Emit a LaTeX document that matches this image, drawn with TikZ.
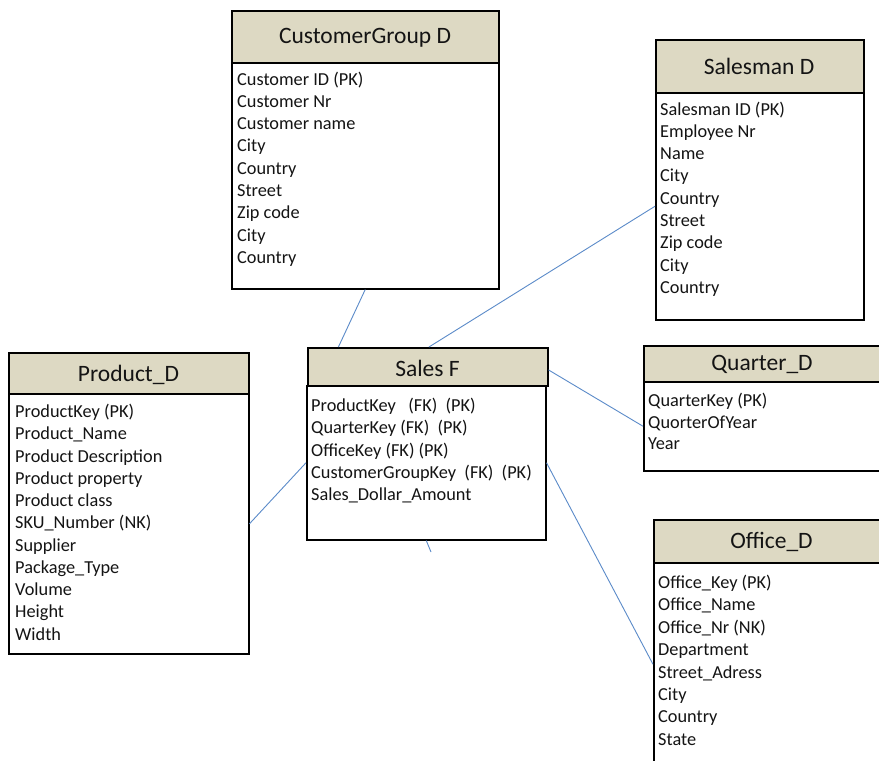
\documentclass[tikz,border=0pt]{standalone}
\usepackage{fontspec}
\setmainfont{Carlito}
\usetikzlibrary{calc}
\definecolor{hdrfill}{HTML}{DDD9C3}
\definecolor{txtc}{HTML}{141414}
\definecolor{linec}{HTML}{5B8BC9}
\newcommand\entrows[5]{%
  \foreach \t [count=\i] in {#5}
    \node[rowtxt] (#1\i) at (#2, {#3+#4*(\i-1)}) {\t};}
\tikzset{
  hdr/.style={draw=black, line width=1.5pt, fill=hdrfill, inner sep=0pt, anchor=north west},
  bodybox/.style={draw=black, line width=1.5pt, fill=white, inner sep=0pt, anchor=north west},
  ttl/.style={anchor=base, inner sep=0pt, text=txtc, font=\fontsize{23.5}{27}\selectfont},
  rowtxt/.style={anchor=base west, inner sep=0pt, text=txtc, font=\fontsize{18.3}{22}\selectfont},
  conn/.style={draw=linec, line width=0.9pt}
}
\begin{document}
\begin{tikzpicture}[x=1pt,y=-1pt]
\useasboundingbox (0,0) rectangle (879,761);
\clip (0,0) rectangle (879,761);
\fill[white] (0,0) rectangle (879,761);

% CustomerGroup D
\node[bodybox, minimum width=267pt, minimum height=226pt] (cgb) at (231,62) {};
\node[hdr, minimum width=267pt, minimum height=52pt] (cgh) at (231,10) {};
\node[ttl] (cgt) at (365,43.5) {CustomerGroup D};
\entrows{cg}{237}{85}{22.3}{Customer ID (PK), Customer Nr, Customer name, City, Country, Street, Zip code, City, Country}

% Salesman D
\node[bodybox, minimum width=208pt, minimum height=227pt] (smb) at (655,92) {};
\node[hdr, minimum width=208pt, minimum height=53pt] (smh) at (655,39) {};
\node[ttl] (smt) at (759,74.5) {Salesman D};
\entrows{sm}{660}{115}{22.3}{Salesman ID (PK), Employee Nr, Name, City, Country, Street, Zip code, City, Country}

% Product_D
\node[bodybox, minimum width=240pt, minimum height=260pt] (pdb) at (8,393) {};
\node[hdr, minimum width=240pt, minimum height=41pt] (pdh) at (8,352) {};
\node[ttl] (pdt) at (128.5,381) {Product\_D};
\entrows{pd}{15}{417.5}{22.25}{ProductKey (PK), Product\_Name, Product Description, Product property, Product class, SKU\_Number (NK), Supplier, Package\_Type, Volume, Height, Width}

% Sales F
\node[bodybox, minimum width=239pt, minimum height=154pt] (sfb) at (306,385) {};
\node[hdr, minimum width=240pt, minimum height=38pt] (sfh) at (307,347) {};
\node[ttl] (sft) at (427.5,376) {Sales F};
\entrows{sf}{311}{411.5}{22.3}{{ProductKey\ \ \ (FK)\ \ (PK)}, {QuarterKey (FK)\ \ (PK)}, {OfficeKey (FK) (PK)}, {CustomerGroupKey\ \ (FK)\ \ (PK)}, Sales\_Dollar\_Amount}

% Quarter_D
\node[bodybox, minimum width=260pt, minimum height=89pt] (qdb) at (643,381) {};
\node[hdr, minimum width=260pt, minimum height=36pt] (qdh) at (643,345) {};
\node[ttl] (qdt) at (762,370.5) {Quarter\_D};
\entrows{qd}{648}{406.5}{21.5}{QuarterKey (PK), QuorterOfYear, Year}

% Office_D
\node[bodybox, minimum width=250pt, minimum height=203pt] (odb) at (653,562) {};
\node[hdr, minimum width=250pt, minimum height=43pt] (odh) at (653,519) {};
\node[ttl] (odt) at (771.5,548.5) {Office\_D};
\entrows{od}{658}{588.5}{22.4}{Office\_Key (PK), Office\_Name, Office\_Nr (NK), Department, Street\_Adress, City, Country, State}

% connectors
\coordinate (stubend) at (431,552);
\draw[conn] ($(cgb.south west)!0.5!(cgb.south east)$) -- ($(sfh.north west)!0.13!(sfh.north east)$);
\draw[conn] (smb.west) -- ($(sfh.north west)!0.505!(sfh.north east)$);
\draw[conn] ($(sfh.north east)!0.58!(sfh.south east)$) -- (qdb.west);
\draw[conn] (pdb.east) -- (sfb.west);
\draw[conn] (sfb.east) -- (odb.west);
\draw[conn] (sfb.south) -- (stubend);
\end{tikzpicture}
\end{document}
